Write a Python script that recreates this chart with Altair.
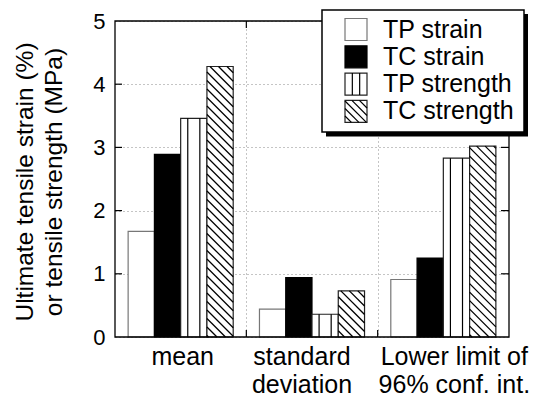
import altair as alt
import numpy as np
import pandas as pd

# ---- data -------------------------------------------------------------
GROUPS = ["mean", "standard\ndeviation", "Lower limit of\n96% conf. int."]
SERIES = ["TP strain", "TC strain", "TP strength", "TC strength"]
TP_STRAIN = [1.67, 0.44, 0.91]
TC_STRAIN = [2.89, 0.94, 1.25]
TP_STRENGTH = [3.46, 0.36, 2.83]
TC_STRENGTH = [4.28, 0.73, 3.02]
Y_TICKS = [0, 1, 2, 3, 4, 5]
Y_TITLE = "Ultimate tensile strain (%)\nor tensile strength (MPa)"

# ---- layout -----------------------------------------------------------
W, H = 394, 316
PX_X = W / len(GROUPS)          # pixels per x unit (one group)
PX_Y = H / 5                    # pixels per y unit
BAR_W = 0.2
MARGIN = 0.1
FONT = "Liberation Sans"
LABEL_NUDGE_PX = [2, -10, 11]   # horizontal nudge of the category labels

XS = alt.Scale(domain=[0, len(GROUPS)], nice=False, zero=False)
YS = alt.Scale(domain=[0, 5], nice=False, zero=False)

FILLS = ["white", "black", "white", "white"]
STROKES = ["#777777", "black", "#222222", "#222222"]

values = [TP_STRAIN, TC_STRAIN, TP_STRENGTH, TC_STRENGTH]
rows = []
for s_i, (name, vals) in enumerate(zip(SERIES, values)):
    for g_i, v in enumerate(vals):
        x0 = g_i + MARGIN + s_i * BAR_W
        rows.append(dict(series=name, x0=x0, x1=x0 + BAR_W, value=v, zero=0.0))
bars = pd.DataFrame(rows)


def diagonal_segments(x0, x1, u0, u1, period):
    """Clip the family of '\\' lines X + U = k*period to a rectangle (pixels, U up)."""
    segs = []
    k0 = int(np.floor((x0 + u0) / period))
    k1 = int(np.ceil((x1 + u1) / period))
    for k in range(k0, k1 + 1):
        c = k * period
        xa = max(x0, c - u1)
        xb = min(x1, c - u0)
        if xb - xa > 0.6:
            segs.append((xa, c - xa, xb, c - xb))
    return segs


# hatch lines for the "TC strength" bars and stripes for "TP strength"
hatch_rows, stripe_rows = [], []
for r in rows:
    if r["series"] == SERIES[3]:
        for xa, ua, xb, ub in diagonal_segments(r["x0"] * PX_X, r["x1"] * PX_X,
                                                0.0, r["value"] * PX_Y, 8.5):
            hatch_rows.append(dict(xa=xa / PX_X, ya=ua / PX_Y, xb=xb / PX_X, yb=ub / PX_Y))
    if r["series"] == SERIES[2]:
        for f in (0.27, 0.73):
            xs = r["x0"] + f * BAR_W
            stripe_rows.append(dict(xa=xs, ya=0.0, xb=xs, yb=r["value"]))
hatch = pd.DataFrame(hatch_rows)
stripes = pd.DataFrame(stripe_rows)


def to_x(px):
    return px / PX_X


def to_y(py):
    return (H - py) / PX_Y


# ---- legend (pixel layout relative to the plot origin) ----------------
LEG_L, LEG_R, LEG_T, LEG_B = 207, 409, -11, 111
SYM_L, SYM_R, SYM_H = 230, 252, 22
ROW0, ROW_STEP = 8.5, 27.3
TXT_X = 268

leg_box = pd.DataFrame([dict(xa=to_x(LEG_L), xb=to_x(LEG_R), ya=to_y(LEG_T), yb=to_y(LEG_B))])
leg_shadow = pd.DataFrame([dict(xa=to_x(LEG_L + 4), xb=to_x(LEG_R + 4),
                                ya=to_y(LEG_T + 4), yb=to_y(LEG_B + 4.5))])
leg_rows, leg_lines = [], []
for i, name in enumerate(SERIES):
    cy = ROW0 + i * ROW_STEP
    top, bot = cy - SYM_H / 2, cy + SYM_H / 2
    leg_rows.append(dict(series=name, xa=to_x(SYM_L), xb=to_x(SYM_R),
                         ya=to_y(top), yb=to_y(bot), tx=to_x(TXT_X), ty=to_y(cy)))
    if i == 2:
        for f in (1 / 3, 2 / 3):
            xs = SYM_L + f * (SYM_R - SYM_L)
            leg_lines.append(dict(xa=to_x(xs), xb=to_x(xs), ya=to_y(top), yb=to_y(bot)))
    if i == 3:
        for xa, ua, xb, ub in diagonal_segments(SYM_L, SYM_R, -bot, -top, 7.5):
            leg_lines.append(dict(xa=to_x(xa), ya=to_y(-ua), xb=to_x(xb), yb=to_y(-ub)))
leg_items = pd.DataFrame(leg_rows)
leg_lines = pd.DataFrame(leg_lines)

labels = pd.DataFrame(dict(label=GROUPS,
                           xc=[g + 0.5 + LABEL_NUDGE_PX[g] / PX_X for g in range(len(GROUPS))]))
yticks = pd.DataFrame(dict(v=Y_TICKS[1:-1]))
xticks = pd.DataFrame(dict(v=list(range(1, len(GROUPS)))))
single = pd.DataFrame(dict(t=[Y_TITLE]))

fill_scale = alt.Scale(domain=SERIES, range=FILLS)
stroke_scale = alt.Scale(domain=SERIES, range=STROKES)

# ---- layers -----------------------------------------------------------
base_axes = alt.Chart(bars).mark_rect(fill="white", stroke="white", strokeWidth=1.2).encode(
    x=alt.X("x0:Q", scale=XS,
            axis=alt.Axis(values=list(range(1, len(GROUPS))), labels=False, ticks=False,
                          domain=False, grid=True, gridDash=[1, 3], gridColor="#8a8a8a",
                          gridWidth=1, title=None)),
    x2="x1:Q",
    y=alt.Y("value:Q", scale=YS,
            axis=alt.Axis(values=Y_TICKS, format="d", ticks=False, tickSize=0, domain=False,
                          grid=True, gridDash=[1, 3], gridColor="#8a8a8a", gridWidth=1,
                          labelFont=FONT, labelFontSize=22, labelColor="black",
                          labelPadding=10, title=None)),
    y2="zero:Q",
    fill=alt.Fill("series:N", scale=fill_scale, legend=None),
    stroke=alt.Stroke("series:N", scale=stroke_scale, legend=None),
)

stripe_layer = alt.Chart(stripes).mark_rule(color="black", strokeWidth=1.2).encode(
    x=alt.X("xa:Q", scale=XS), x2="xb:Q", y=alt.Y("ya:Q", scale=YS), y2="yb:Q")
hatch_layer = alt.Chart(hatch).mark_rule(color="black", strokeWidth=1.3).encode(
    x=alt.X("xa:Q", scale=XS), x2="xb:Q", y=alt.Y("ya:Q", scale=YS), y2="yb:Q")

frame = alt.Chart(single).mark_rect(fillOpacity=0, stroke="black", strokeWidth=1.3).encode(
    x=alt.value(0), x2=alt.value(W), y=alt.value(0), y2=alt.value(H))

tick_style = dict(color="black", strokeWidth=1.2)
left_ticks = alt.Chart(yticks).mark_rule(**tick_style).encode(
    y=alt.Y("v:Q", scale=YS), x=alt.value(0), x2=alt.value(7))
right_ticks = alt.Chart(yticks).mark_rule(**tick_style).encode(
    y=alt.Y("v:Q", scale=YS), x=alt.value(W - 8), x2=alt.value(W))
bottom_ticks = alt.Chart(xticks).mark_rule(**tick_style).encode(
    x=alt.X("v:Q", scale=XS), y=alt.value(H), y2=alt.value(H - 7))
top_ticks = alt.Chart(xticks).mark_rule(**tick_style).encode(
    x=alt.X("v:Q", scale=XS), y=alt.value(0), y2=alt.value(7))

group_labels = alt.Chart(labels).mark_text(
    font=FONT, fontSize=25, lineBreak="\n", lineHeight=28, align="center",
    baseline="alphabetic", color="black").encode(
    x=alt.X("xc:Q", scale=XS), y=alt.value(H + 28), text="label:N")

y_title = alt.Chart(single).mark_text(
    font=FONT, fontSize=24.5, lineBreak="\n", lineHeight=29, align="center",
    baseline="alphabetic", angle=270, color="black").encode(
    x=alt.value(-82), y=alt.value(161), text="t:N")

shadow = alt.Chart(leg_shadow).mark_rect(fill="black").encode(
    x=alt.X("xa:Q", scale=XS), x2="xb:Q", y=alt.Y("ya:Q", scale=YS), y2="yb:Q")
box = alt.Chart(leg_box).mark_rect(fill="white", stroke="black", strokeWidth=1.5).encode(
    x=alt.X("xa:Q", scale=XS), x2="xb:Q", y=alt.Y("ya:Q", scale=YS), y2="yb:Q")
symbols = alt.Chart(leg_items).mark_rect(strokeWidth=1.2).encode(
    x=alt.X("xa:Q", scale=XS), x2="xb:Q", y=alt.Y("ya:Q", scale=YS), y2="yb:Q",
    fill=alt.Fill("series:N", scale=fill_scale, legend=None),
    stroke=alt.Stroke("series:N", scale=stroke_scale, legend=None))
symbol_lines = alt.Chart(leg_lines).mark_rule(color="black", strokeWidth=1.2).encode(
    x=alt.X("xa:Q", scale=XS), x2="xb:Q", y=alt.Y("ya:Q", scale=YS), y2="yb:Q")
leg_text = alt.Chart(leg_items).mark_text(
    font=FONT, fontSize=25, align="left", baseline="middle", color="black").encode(
    x=alt.X("tx:Q", scale=XS), y=alt.Y("ty:Q", scale=YS), text="series:N")

chart = alt.layer(
    base_axes, stripe_layer, hatch_layer, frame,
    left_ticks, right_ticks, bottom_ticks, top_ticks,
    group_labels, y_title,
    shadow, box, symbols, symbol_lines, leg_text,
).properties(
    width=W, height=H,
    autosize=alt.AutoSizeParams(type="none"),
    padding={"left": 115, "top": 21, "right": 25, "bottom": 61},
    background="white",
).configure_view(stroke=None)

chart.save("out.html", embed_options={"renderer": "svg", "actions": False})
